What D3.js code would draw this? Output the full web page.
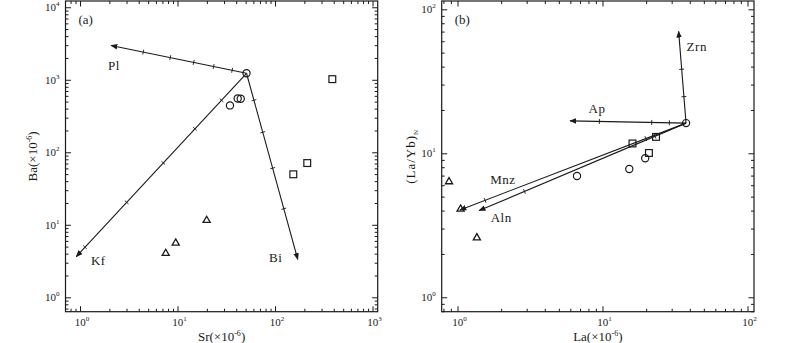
<!DOCTYPE html>
<html>
<head>
<meta charset="utf-8">
<script src="https://cdn.jsdelivr.net/npm/d3@7"></script>
<style>
  body { margin: 0; background: #fff; }
  svg { display: block; font-family: "Liberation Serif", "DejaVu Serif", serif; }
</style>
</head>
<body>
<svg id="chart" width="800" height="343"></svg>
<script>
// --- Data ---
// panel (a): Sr vs Ba
const aMajorX = [1, 10, 100, 1000];
const aMajorY = [1, 10, 100, 1000, 10000];
const aCircles = [[51, 1230], [34.5, 443], [41.4, 552], [44.5, 547]];
const aSquares = [[387, 1020], [154, 49.7], [214, 71]];
const aTriangles = [[7.57, 4.04], [9.58, 5.6], [19.9, 11.5]];
const aOrigin = [51, 1230];
const aVectorNames = ["Pl", "Kf", "Bi"];
const aVectorEnds = [[2.08, 2970], [0.916, 3.64], [171, 3.34]];
const aVectorTicks = [
  [0.106, 0.243, 0.39, 0.563, 0.762],
  [0.147, 0.303, 0.489, 0.704, 0.949],
  [0.145, 0.317, 0.51, 0.728]
];

// panel (b): La vs (La/Yb)N
const bMajorX = [1, 10, 100];
const bMajorY = [1, 10, 100];
const bCircles = [[37.7, 16.2], [6.67, 6.96], [15.3, 7.78], [19.7, 9.23]];
const bSquares = [[16.1, 11.7], [20.9, 10.05], [23.4, 13.0]];
const bTriangles = [[0.874, 6.35], [1.05, 4.1], [1.36, 2.59]];
const bOrigin = [37.7, 16.2];
const bVectorNames = ["Zrn", "Ap", "Mnz", "Aln"];
const bVectorEnds = [[33.5, 70.3], [5.97, 16.8], [1.04, 4.04], [1.41, 4.0]];
const bVectorTicks = [
  [0.289, 0.587],
  [0.144, 0.296, 0.747],
  [0.178, 0.889],
  [0.15, 0.781]
];

const svg = d3.select("#chart");
const ink = "#1a1a1a";

svg.append("defs").append("marker")
  .attr("id", "arrow")
  .attr("viewBox", "0 -5 10 10")
  .attr("refX", 9).attr("refY", 0)
  .attr("markerWidth", 7).attr("markerHeight", 7)
  .attr("markerUnits", "userSpaceOnUse")
  .attr("orient", "auto")
  .append("path")
  .attr("d", "M0,-4L10,0L0,4Z")
  .attr("fill", ink);

// label offsets from arrow tip (px): [dx, dy, anchor]
const labelOffsets = {
  Pl: [3, 25, "middle"], Kf: [22, 8, "middle"], Bi: [-22, 3, "middle"],
  Zrn: [8, 20, "start"], Ap: [27, -8, "middle"], Mnz: [43, -26, "middle"], Aln: [22, 11, "middle"]
};

function drawPanel(cfg) {
  const x = d3.scaleLog().domain(cfg.xDomain).range(cfg.xRange);
  const y = d3.scaleLog().domain(cfg.yDomain).range(cfg.yRange);
  const g = svg.append("g");
  const [x0, x1] = cfg.xRange;
  const [y0, y1] = cfg.yRange; // y0 bottom, y1 top

  const allX = x.ticks();
  const allY = y.ticks();
  const minorX = allX.filter(v => !cfg.majorX.includes(v));
  const minorY = allY.filter(v => !cfg.majorY.includes(v));

  // ticks pointing inward on all four sides
  function addAxis(axisFn, scale, vals, size, transform) {
    const ax = g.append("g")
      .attr("transform", transform)
      .call(axisFn(scale).tickValues(vals).tickSizeInner(-size).tickSizeOuter(0).tickFormat(""));
    ax.select(".domain").remove();
    ax.selectAll("line").attr("stroke", ink).attr("stroke-width", 1);
  }
  [[minorX, 3], [cfg.majorX, 5.5]].forEach(([vals, s]) => {
    addAxis(d3.axisBottom, x, vals, s, `translate(0,${y0})`);
    addAxis(d3.axisTop, x, vals, s, `translate(0,${y1})`);
  });
  [[minorY, 3], [cfg.majorY, 5.5]].forEach(([vals, s]) => {
    addAxis(d3.axisLeft, y, vals, s, `translate(${x0},0)`);
    addAxis(d3.axisRight, y, vals, s, `translate(${x1},0)`);
  });

  g.append("rect")
    .attr("x", x0).attr("y", y1)
    .attr("width", x1 - x0).attr("height", y0 - y1)
    .attr("fill", "none").attr("stroke", ink).attr("stroke-width", 1.2);

  // tick labels 10^n
  function powLabel(sel, v) {
    sel.append("tspan").text("10");
    sel.append("tspan").attr("font-size", 7).attr("dy", -5).text(Math.round(Math.log10(v)));
  }
  cfg.majorX.forEach(v => {
    g.append("text").attr("x", x(v) + 2).attr("y", y0 + 14.5)
      .attr("text-anchor", "middle").attr("font-size", 11).attr("fill", ink)
      .call(powLabel, v);
  });
  cfg.majorY.forEach(v => {
    g.append("text").attr("x", x0 - 6).attr("y", y(v) + 4)
      .attr("text-anchor", "end").attr("font-size", 11).attr("fill", ink)
      .call(powLabel, v);
  });

  // axis titles
  const xt = g.append("text").attr("x", (x0 + x1) / 2).attr("y", 340.5)
    .attr("text-anchor", "middle").attr("font-size", 13).attr("fill", ink);
  xt.append("tspan").text(cfg.xTitle + "(×10");
  xt.append("tspan").attr("font-size", 8).attr("dy", -5).text("-6");
  xt.append("tspan").attr("dy", 5).text(")");

  const yt = g.append("text")
    .attr("transform", `translate(${cfg.yTitleX},${(y0 + y1) / 2}) rotate(-90)`)
    .attr("text-anchor", "middle").attr("font-size", 13).attr("fill", ink);
  cfg.yTitle(yt);

  g.append("text").attr("x", x0 + 13).attr("y", 24)
    .attr("font-size", 13).attr("fill", ink).text(cfg.panel);

  // vectors
  const [ox, oy] = [x(cfg.origin[0]), y(cfg.origin[1])];
  cfg.names.forEach((name, i) => {
    const ex = x(cfg.ends[i][0]), ey = y(cfg.ends[i][1]);
    g.append("line")
      .attr("x1", ox).attr("y1", oy).attr("x2", ex).attr("y2", ey)
      .attr("stroke", ink).attr("stroke-width", 1.1)
      .attr("marker-end", "url(#arrow)");
    const len = Math.hypot(ex - ox, ey - oy);
    const nx = -(ey - oy) / len, ny = (ex - ox) / len;
    cfg.ticks[i].forEach(f => {
      const px = ox + f * (ex - ox), py = oy + f * (ey - oy);
      g.append("line")
        .attr("x1", px - nx * 2.5).attr("y1", py - ny * 2.5)
        .attr("x2", px + nx * 2.5).attr("y2", py + ny * 2.5)
        .attr("stroke", ink).attr("stroke-width", 0.9);
    });
    const [dx, dy, anchor] = labelOffsets[name];
    g.append("text").attr("x", ex + dx).attr("y", ey + dy)
      .attr("text-anchor", anchor).attr("font-size", 13).attr("fill", ink)
      .style("letter-spacing", "0.5px").text(name);
  });

  // samples
  g.selectAll(".circ").data(cfg.circles).join("circle")
    .attr("cx", d => x(d[0])).attr("cy", d => y(d[1])).attr("r", 3.6)
    .attr("fill", "none").attr("stroke", ink).attr("stroke-width", 1.2);
  g.selectAll(".sq").data(cfg.squares).join("rect")
    .attr("x", d => x(d[0]) - 3.4).attr("y", d => y(d[1]) - 3.4)
    .attr("width", 6.8).attr("height", 6.8)
    .attr("fill", "none").attr("stroke", ink).attr("stroke-width", 1.2);
  const tri = d3.symbol().type(d3.symbolTriangle).size(22);
  g.selectAll(".tri").data(cfg.triangles).join("path")
    .attr("d", tri)
    .attr("transform", d => `translate(${x(d[0])},${y(d[1])})`)
    .attr("fill", "none").attr("stroke", ink).attr("stroke-width", 1.3);
}

drawPanel({
  panel: "(a)",
  xDomain: [0.71, 1130], xRange: [65.5, 377.7],
  yDomain: [0.633, 12200], yRange: [311.7, 1],
  majorX: aMajorX, majorY: aMajorY,
  xTitle: "Sr",
  yTitleX: 37,
  yTitle: t => {
    t.append("tspan").text("Ba(×10");
    t.append("tspan").attr("font-size", 8).attr("dy", -5).text("-6");
    t.append("tspan").attr("dy", 5).text(")");
  },
  origin: aOrigin, names: aVectorNames, ends: aVectorEnds, ticks: aVectorTicks,
  circles: aCircles, squares: aSquares, triangles: aTriangles
});

drawPanel({
  panel: "(b)",
  xDomain: [0.778, 110.9], xRange: [441.7, 754],
  yDomain: [0.794, 114.2], yRange: [311.7, 1],
  majorX: bMajorX, majorY: bMajorY,
  xTitle: "La",
  yTitleX: 415,
  yTitle: t => {
    t.style("letter-spacing", "1px");
    t.append("tspan").text("(La/Yb)");
    t.append("tspan").attr("font-size", 7).attr("dy", 3).text("N");
  },
  origin: bOrigin, names: bVectorNames, ends: bVectorEnds, ticks: bVectorTicks,
  circles: bCircles, squares: bSquares, triangles: bTriangles
});
</script>
</body>
</html>
